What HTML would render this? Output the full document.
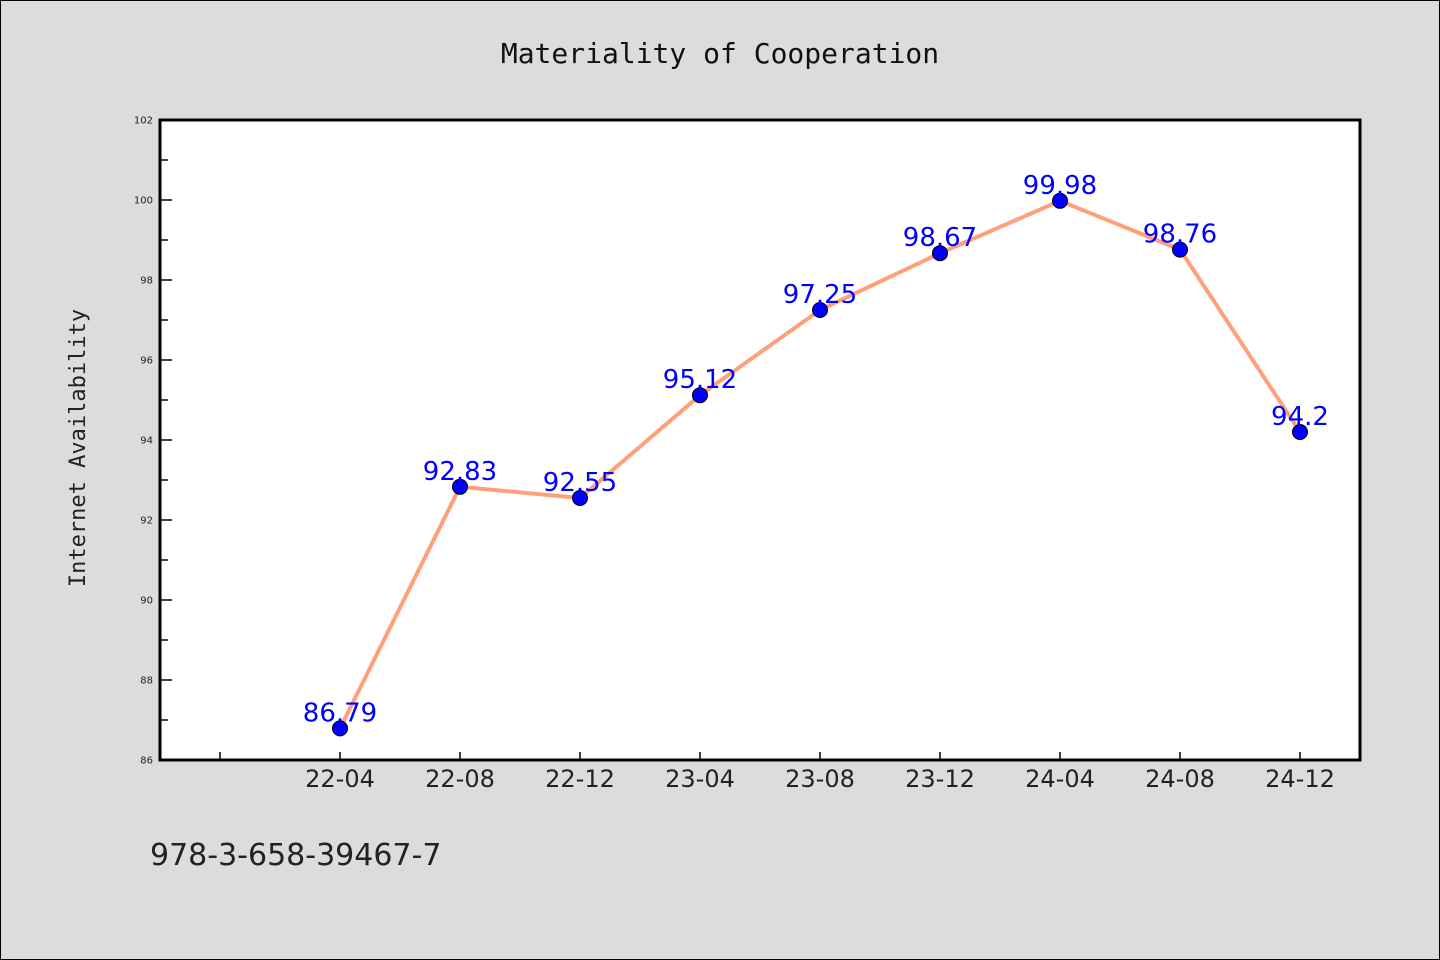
<!DOCTYPE html>
<html><head><meta charset="utf-8"><style>
html,body{margin:0;padding:0;background:#dcdcdc;}
svg{display:block;}
</style></head><body>
<svg id="chart" width="1440" height="960" xmlns="http://www.w3.org/2000/svg">
<rect x="0.5" y="0.5" width="1439" height="959" fill="#dcdcdc" stroke="#000" stroke-width="1"/>
<text x="720" y="63" text-anchor="middle" font-family="DejaVu Sans Mono, monospace" font-size="28" fill="#111">Materiality of Cooperation</text>
<text transform="translate(85,448) rotate(-90)" text-anchor="middle" font-family="DejaVu Sans Mono, monospace" font-size="22" fill="#222">Internet Availability</text>
<rect x="160" y="120" width="1200" height="640" fill="#fff"/>
<g id="axes"></g>
<g id="series"></g>
<rect x="160" y="120" width="1200" height="640" fill="none" stroke="#000" stroke-width="3"/>
<text x="150" y="865" font-family="DejaVu Sans, sans-serif" font-size="30" fill="#222">978-3-658-39467-7</text>
</svg>
<script>
const categories = ["22-04","22-08","22-12","23-04","23-08","23-12","24-04","24-08","24-12"];
const values = [86.79,92.83,92.55,95.12,97.25,98.67,99.98,98.76,94.2];
const labels = ["86.79","92.83","92.55","95.12","97.25","98.67","99.98","98.76","94.2"];
const yTicks = [86,88,90,92,94,96,98,100,102];
const yMin = 86, yMax = 102;
const NS = "http://www.w3.org/2000/svg";
const L=160,R=1360,T=120,B=760;
const n = categories.length;
function x(i){ return L + (R-L)*(i+1.5)/(n+1); }
function y(v){ return B - (v-yMin)/(yMax-yMin)*(B-T); }
function mk(tag,attrs,parent){const e=document.createElementNS(NS,tag);for(const k in attrs)e.setAttribute(k,attrs[k]);parent.appendChild(e);return e;}
const axes=document.getElementById('axes'), ser=document.getElementById('series');
yTicks.forEach((t,k)=>{
  const tl=mk('line',{x1:L,x2:L+12,y1:y(t),y2:y(t),stroke:'#000','stroke-width':1.5},axes);
  
  
  const tx=mk('text',{x:L-7,y:y(t)+3.5,'text-anchor':'end','font-family':'DejaVu Sans, sans-serif','font-size':10,fill:'#222'},axes);
  tx.textContent=t;
  
  
  if(k<yTicks.length-1){
    const m=mk('line',{x1:L,x2:L+8,y1:y(t+1),y2:y(t+1),stroke:'#000','stroke-width':1.5},axes);
    
    
  }
});
for(let i=-1;i<n;i++){
  const tl=mk('line',{x1:x(i),x2:x(i),y1:B,y2:B-8,stroke:'#000','stroke-width':1.5},axes);
  
  
  if(i>=0){
    const tx=mk('text',{x:x(i),y:B+27,'text-anchor':'middle','font-family':'DejaVu Sans, sans-serif','font-size':24,fill:'#222'},axes);
    tx.textContent=categories[i];
    
    
  }
}
const pl=mk('polyline',{points:values.map((v,i)=>x(i)+','+y(v)).join(' '),fill:'none',stroke:'#ffa07a','stroke-width':4,'stroke-linejoin':'round'},ser);


values.forEach((v,i)=>{
  const c=mk('circle',{cx:x(i),cy:y(v),r:7.5,fill:'#0000ff',stroke:'#000','stroke-width':1},ser);
  
  
  const t=mk('text',{x:x(i),y:y(v)-7,'text-anchor':'middle','font-family':'DejaVu Sans, sans-serif','font-size':26,fill:'#0000ff'},ser);
  t.textContent=labels[i];
  
  
});
</script>
</body></html>
